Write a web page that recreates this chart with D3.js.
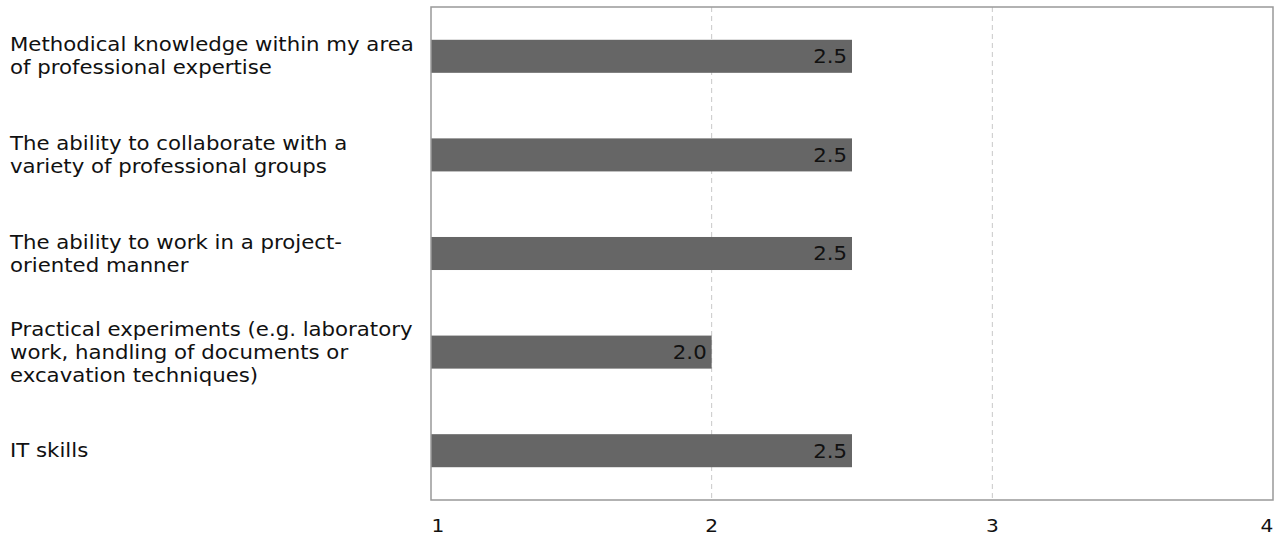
<!DOCTYPE html>
<html><head><meta charset="utf-8">
<script src="https://d3js.org/d3.v7.min.js"></script>
<style>body{margin:0;background:#fff;} svg{display:block;font-family:"DejaVu Sans",Verdana,sans-serif;}</style>
</head><body><svg id="c" width="1286" height="551"></svg>
<script>
const categories = [
  "Methodical knowledge within my area of professional expertise",
  "The ability to collaborate with a variety of professional groups",
  "The ability to work in a project-oriented manner",
  "Practical experiments (e.g. laboratory work, handling of documents or excavation techniques)",
  "IT skills"
];
const categoryLines = [
  ["Methodical knowledge within my area", "of professional expertise"],
  ["The ability to collaborate with a", "variety of professional groups"],
  ["The ability to work in a project-", "oriented manner"],
  ["Practical experiments (e.g. laboratory", "work, handling of documents or", "excavation techniques)"],
  ["IT skills"]
];
const values = [2.5, 2.5, 2.5, 2.0, 2.5];
const tickValues = [1, 2, 3, 4];

const svg = d3.select("#c");
const m = {left: 431, right: 1273, top: 7, bottom: 500};
const x = d3.scaleLinear().domain([1, 4]).range([m.left, m.right]);
const y = d3.scaleBand().domain(categories).range([m.top, m.bottom]).paddingInner(0.665).paddingOuter(0.3325);
const FS = 19, SX = 1.12;

// grid
svg.append("g").selectAll("line").data([2, 3]).join("line")
  .attr("x1", d => x(d)).attr("x2", d => x(d))
  .attr("y1", m.top).attr("y2", m.bottom)
  .attr("stroke", "#c8c8c8").attr("stroke-width", 1).attr("stroke-dasharray", "5,4");

// bars
svg.append("g").selectAll("rect").data(values).join("rect")
  .attr("x", x(1)).attr("y", (d, i) => y(categories[i]))
  .attr("width", d => x(d) - x(1)).attr("height", y.bandwidth())
  .attr("fill", "#666666");

// value labels
svg.append("g").selectAll("text").data(values).join("text")
  .attr("transform", (d, i) => `translate(${x(d) - 5},${y(categories[i]) + y.bandwidth() / 2}) scale(${SX},1)`)
  .attr("dy", "0.36em").attr("text-anchor", "end")
  .attr("font-size", FS).attr("fill", "#111")
  .text(d => d.toFixed(1));

// frame
svg.append("rect").attr("x", m.left).attr("y", m.top)
  .attr("width", m.right - m.left).attr("height", m.bottom - m.top)
  .attr("fill", "none").attr("stroke", "#999").attr("stroke-width", 1.5);

// category labels
const lh = 23;
svg.append("g").attr("transform", `translate(10,0) scale(${SX},1)`)
  .selectAll("text").data(categories).join("text")
  .attr("font-size", FS).attr("fill", "#111")
  .each(function(c, i) {
    const lines = categoryLines[i];
    const cy = y(c) + y.bandwidth() / 2;
    const y0 = cy - (lines.length - 1) * lh / 2;
    d3.select(this).selectAll("tspan").data(lines).join("tspan")
      .attr("x", 0).attr("y", (l, j) => y0 + j * lh).attr("dy", "0.35em").text(l => l);
  });

// x axis tick labels
svg.append("g").selectAll("text").data(tickValues).join("text")
  .attr("transform", (d, i) => `translate(${x(d) + (i === 0 ? 7 : i === tickValues.length - 1 ? -6 : 0)},526) scale(${SX},1)`)
  .attr("dy", "0.35em")
  .attr("text-anchor", "middle")
  .attr("font-size", 18).attr("fill", "#111")
  .text(d => d);
</script></body></html>
